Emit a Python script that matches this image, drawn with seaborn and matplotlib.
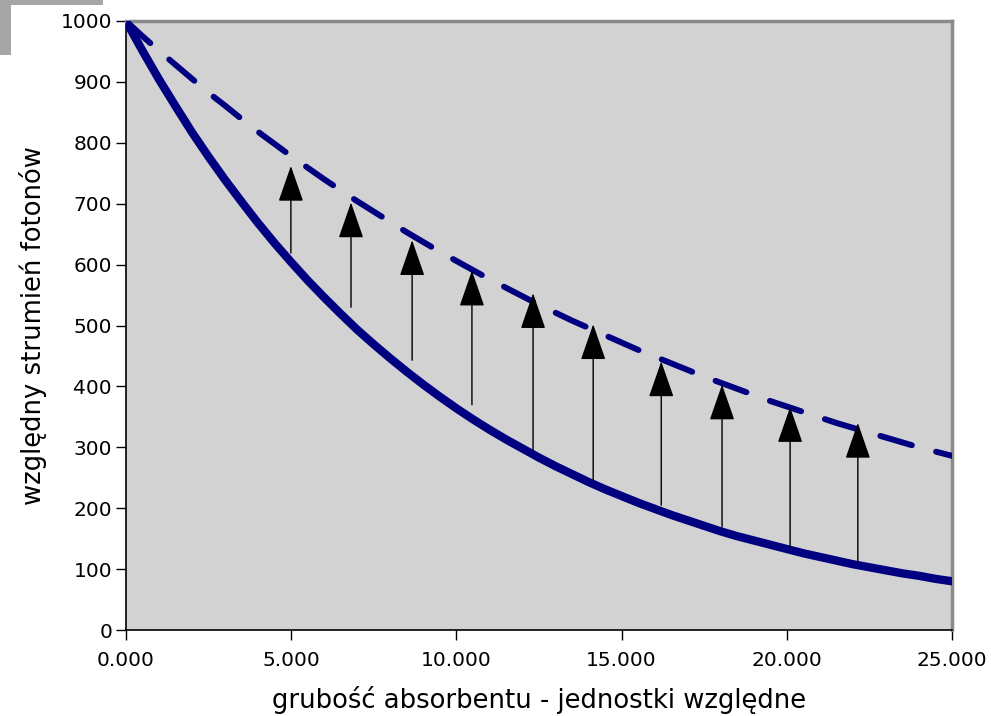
import numpy as np
import pandas as pd
import matplotlib
matplotlib.use("Agg")
import matplotlib.pyplot as plt
from matplotlib.patches import Rectangle
import seaborn as sns

# data
thickness = [0, 0.5, 1, 1.5, 2, 2.5, 3, 3.5, 4, 4.5, 5, 5.5, 6, 6.5, 7, 7.5, 8, 8.5, 9, 9.5,
             10, 10.5, 11, 11.5, 12, 12.5, 13, 13.5, 14, 14.5, 15, 15.5, 16, 16.5, 17, 17.5,
             18, 18.5, 19, 19.5, 20, 20.5, 21, 21.5, 22, 22.5, 23, 23.5, 24, 24.5, 25]
flux_solid = [1000, 951, 904, 860, 817, 777, 739, 703, 668, 635, 604, 574, 546, 519, 493, 469,
              446, 424, 403, 383, 364, 346, 329, 313, 298, 283, 269, 256, 243, 231, 220, 209,
              199, 189, 180, 171, 162, 154, 147, 140, 133, 126, 120, 114, 108, 103, 98, 93,
              89, 84, 80]
flux_dashed = [1000, 975, 951, 928, 905, 882, 861, 839, 818, 798, 778, 759, 740, 722, 704, 687,
               670, 653, 637, 621, 606, 591, 576, 562, 548, 534, 521, 508, 496, 484, 472, 460,
               449, 438, 427, 416, 406, 396, 386, 376, 367, 358, 349, 340, 332, 324, 316, 308,
               300, 293, 286]

arrow_x = [4.99, 6.81, 8.66, 10.47, 12.32, 14.14, 16.20, 18.04, 20.10, 22.15]
arrow_from = [619, 530, 443, 370, 296, 246, 205, 169, 136, 110]
arrow_to = [762, 702, 640, 590, 553, 502, 441, 403, 366, 340]

xticks = [0, 5, 10, 15, 20, 25]
xtick_labels = ["0.000", "5.000", "10.000", "15.000", "20.000", "25.000"]
yticks = [0, 100, 200, 300, 400, 500, 600, 700, 800, 900, 1000]

sns.set_style("white")
plt.rcParams['font.family'] = ['DejaVu Sans']

fig = plt.figure(figsize=(9.91, 7.16), dpi=100)
W, H = 991, 716
# decorative gray corner
fig.patches.append(Rectangle((0, 1 - 55 / H), 103 / W, 55 / H, transform=fig.transFigure,
                             facecolor="#a6a6a6", edgecolor="none", zorder=0))
fig.patches.append(Rectangle((11 / W, 0), 1, 1 - 5 / H, transform=fig.transFigure,
                             facecolor="white", edgecolor="none", zorder=0.5))

ax = fig.add_axes([126 / W, 1 - 630 / H, (952 - 126) / W, (630 - 21) / H])
ax.set_zorder(2)
ax.set_facecolor("#d2d2d2")

df = pd.DataFrame({"x": thickness, "solid": flux_solid, "dashed": flux_dashed})
sns.lineplot(data=df, x="x", y="solid", ax=ax, color="#000080", lw=6.0,
             solid_capstyle="round", solid_joinstyle="round", zorder=3)
sns.lineplot(data=df, x="x", y="dashed", ax=ax, color="#000080", lw=4.3, zorder=3)
ax.lines[-1].set_dashes([5.5, 4.2])
ax.lines[-1].set_dash_capstyle("round")
ax.lines[-1].set_dash_joinstyle("round")

for x, y0, y1 in zip(arrow_x, arrow_from, arrow_to):
    ax.annotate("", xy=(x, y1), xytext=(x, y0),
                arrowprops=dict(arrowstyle="-|>,head_length=2.3,head_width=0.8",
                                mutation_scale=10, lw=1, color="black",
                                shrinkA=0, shrinkB=0), zorder=4)

ax.set_xlim(0, 25)
ax.set_ylim(0, 1000)
ax.set_xticks(xticks)
ax.set_xticklabels(xtick_labels)
ax.set_yticks(yticks)
ax.tick_params(axis="both", which="major", direction="out", length=7, width=1,
               color="black", labelsize=14.5, labelcolor="black", pad=3,
               bottom=True, left=True)
ax.tick_params(axis="x", pad=8)

for s in ["top", "right"]:
    ax.spines[s].set_color("#8a8a8a")
    ax.spines[s].set_linewidth(2.5)
for s in ["left", "bottom"]:
    ax.spines[s].set_color("black")
    ax.spines[s].set_linewidth(1.2)

ax.set_xlabel("grubość absorbentu - jednostki względne", fontsize=18.6, labelpad=12,
              color="black")
ax.set_ylabel("względny strumień fotonów", fontsize=18.6, labelpad=10, color="black")

fig.savefig("out.png", dpi=100)
